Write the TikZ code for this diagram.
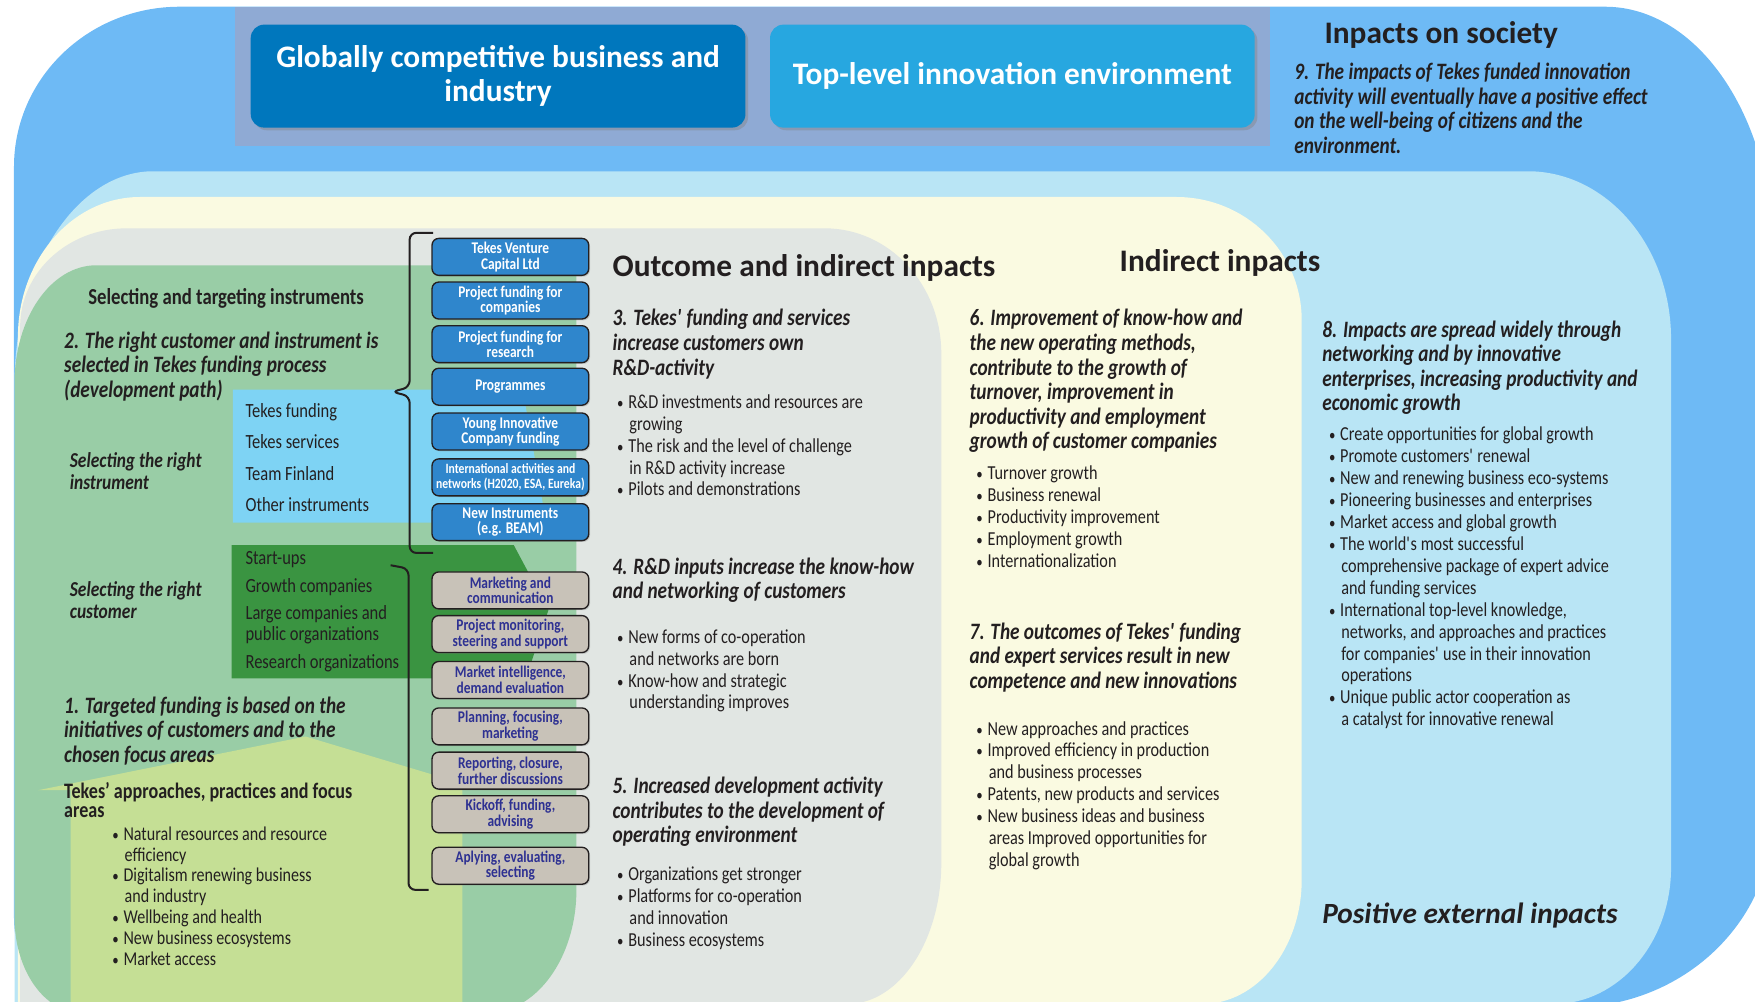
\documentclass[tikz,border=0pt]{standalone}
\usepackage{fontspec}
\setmainfont{Carlito}[FakeStretch=0.82]
\newfontfamily\headfont{Carlito}
\usetikzlibrary{positioning,shadows}
\definecolor{tkSky}{HTML}{6EBAF5}
\definecolor{tkBand}{HTML}{8FAAD4}
\definecolor{tkNavy}{HTML}{0077BD}
\definecolor{tkCyan}{HTML}{27A7E0}
\definecolor{tkPale}{HTML}{B9E5F5}
\definecolor{tkCream}{HTML}{FAFAE1}
\definecolor{tkGrey}{HTML}{E1E6E3}
\definecolor{tkGreen}{HTML}{99CDA6}
\definecolor{tkLime}{HTML}{C5DF95}
\definecolor{tkAqua}{HTML}{7ED3F4}
\definecolor{tkForest}{HTML}{3A9441}
\definecolor{tkInst}{HTML}{2F86CC}
\definecolor{tkAct}{HTML}{C8C2B8}
\definecolor{tkActText}{HTML}{2E3192}
\definecolor{tkInk}{HTML}{231F20}
\newcommand{\bitem}{\makebox[5pt][l]{\fontsize{7}{7}\selectfont\textbullet}}
\newcommand{\bcont}{\hspace*{5.5pt}}
\tikzset{
  topbox/.style    = {rounded corners=6pt, text=white, align=center,
                      font=\headfont\fontsize{14}{15}\selectfont\bfseries,
                      minimum height=46pt, inner sep=2pt,
                      drop shadow={shadow xshift=1.2pt, shadow yshift=-1.2pt,
                                   opacity=0.4}},
  instbox/.style   = {draw=tkInk, line width=0.6pt, rounded corners=3pt,
                      fill=tkInst, text=white, align=center,
                      font=\fontsize{7.3}{7}\selectfont\bfseries,
                      minimum width=70pt, minimum height=16.5pt, inner sep=1pt,
                      drop shadow={shadow xshift=0.6pt, shadow yshift=-0.6pt,
                                   opacity=0.3}},
  actbox/.style    = {instbox, fill=tkAct, text=tkActText},
  panelhd/.style   = {font=\headfont\fontsize{14}{15}\selectfont\bfseries,
                      text=tkInk, inner sep=0pt, anchor=west},
  claim/.style     = {font=\fontsize{10.5}{11}\selectfont\bfseries\itshape,
                      text=tkInk, align=left, inner sep=0pt, anchor=north west},
  bullets/.style   = {font=\fontsize{8.85}{9.8}\selectfont, text=tkInk,
                      align=left, inner sep=0pt, anchor=north west},
  choose/.style    = {font=\fontsize{9.5}{10}\selectfont\bfseries\itshape,
                      text=tkInk, align=left, inner sep=0pt, anchor=north west},
  roster/.style    = {font=\fontsize{9}{14}\selectfont, text=tkInk,
                      align=left, inner sep=0pt, anchor=north west},
  brace/.style     = {draw=tkInk, line width=0.9pt, rounded corners=3pt},
}
\begin{document}
\begin{tikzpicture}[x=0.5pt, y=-0.5pt]
  \useasboundingbox (0,0) rectangle (1568,895);
  \clip (0,0) rectangle (1568,895);

  % nested impact layers, outermost first
  \fill[tkSky] (12.5,149) arc[start angle=180, end angle=270, x radius=148, y radius=143]
    -- (1434,6) arc[start angle=270, end angle=360, x radius=150, y radius=220]
    -- (1584,730) arc[start angle=0, end angle=90, x radius=180, y radius=170]
    -- (72.5,900) arc[start angle=90, end angle=180, x radius=60, y radius=80] -- cycle;
  \fill[tkBand] (210,6) rectangle (1135,130);
  \fill[tkPale] (13,343) arc[start angle=180, end angle=270, x radius=124, y radius=190]
    -- (1365,153) arc[start angle=270, end angle=360, x radius=128, y radius=150]
    -- (1493,775) arc[start angle=0, end angle=90, x radius=105, y radius=122]
    -- (13,897) -- cycle;
  \fill[tkCream] (16,301) arc[start angle=180, end angle=270, x radius=109, y radius=125]
    -- (1051,176) arc[start angle=270, end angle=360, x radius=112, y radius=110]
    -- (1163,786) arc[start angle=0, end angle=90, x radius=89, y radius=111]
    -- (16,897) -- cycle;
  \fill[tkGrey] (18,292) arc[start angle=180, end angle=270, x radius=95, y radius=88]
    -- (737,204) arc[start angle=270, end angle=360, x radius=104, y radius=112]
    -- (841,771) arc[start angle=0, end angle=90, x radius=84, y radius=126]
    -- (18,897) -- cycle;
  \fill[tkGreen] (13,342) arc[start angle=180, end angle=270, x radius=73, y radius=105]
    -- (515,237) -- (515,795) arc[start angle=0, end angle=90, x radius=80, y radius=110]
    -- (73,905) arc[start angle=90, end angle=180, x radius=60, y radius=85] -- cycle;
  \fill[tkLime] (63,905) -- (63,706) -- (34,706) -- (273,658) -- (413,700)
    -- (413,905) -- cycle;
  \fill[tkAqua] (208,348) -- (467,348) -- (488,467) -- (208,467) -- cycle;
  \fill[tkForest] (207,487) -- (459,487) -- (490,545) -- (470,606) -- (207,606) -- cycle;

  % top goals
  \node[topbox, fill=tkNavy, minimum width=221pt] (business) at (445,68)
    {Globally competitive business and\\industry};
  \node[topbox, fill=tkCyan, minimum width=216.5pt] (environment) at (904.5,68)
    {Top-level innovation environment};
  \node[panelhd] (society) at (1183,31) {Inpacts on society};
  \node[claim] (claim9) at (1156,56)
    {9. The impacts of Tekes funded innovation\\activity will eventually have a positive effect\\on the well-being of citizens and the\\environment.};

  % braces
  \draw[brace] (387,208) -- (366,208) -- (366,346) -- (350,350) -- (366,354)
    -- (366,494) -- (387,494);
  \draw[brace] (349,505) -- (365,508) -- (365,795) -- (383,795);

  % instruments
  \node[instbox] (venture) at (456,229.5) {Tekes Venture\\Capital Ltd};
  \node[instbox] (pfcomp)  at (456,268.5) {Project funding for\\companies};
  \node[instbox] (pfres)   at (456,307.5) {Project funding for\\research};
  \node[instbox] (progs)   at (456,345.5) {Programmes};
  \node[instbox] (yic)     at (456,385.5) {Young Innovative\\Company funding};
  \node[instbox, font=\fontsize{6.35}{6.6}\selectfont\bfseries] (intl) at (456,426.5)
    {International activities and\\networks (H2020, ESA, Eureka)};
  \node[instbox] (newinst) at (456,466.5) {New Instruments\\(e.g. BEAM)};

  % process steps
  \node[actbox] (mkt)     at (456,527.5) {Marketing and\\communication};
  \node[actbox] (monitor) at (456,566.5) {Project monitoring,\\steering and support};
  \node[actbox] (intel)   at (456,607.5) {Market intelligence,\\demand evaluation};
  \node[actbox] (plan)    at (456,649)   {Planning, focusing,\\marketing};
  \node[actbox] (report)  at (456,688.5) {Reporting, closure,\\further discussions};
  \node[actbox] (kickoff) at (456,727.5) {Kickoff, funding,\\advising};
  \node[actbox] (apply)   at (456,773.5) {Aplying, evaluating,\\selecting};

  % left panel
  \node[font=\fontsize{10.2}{11}\selectfont\bfseries, text=tkInk, inner sep=0pt]
    (targeting) at (202,267) {Selecting and targeting instruments};
  \node[claim] (claim2) at (57,296)
    {2. The right customer and instrument is\\selected in Tekes funding process\\(development path)};
  \node[choose] (chooseinst) at (62,404) {Selecting the right\\instrument};
  \node[roster] (instlist) at (219,360)
    {Tekes funding\\Tekes services\\Team Finland\\Other instruments};
  \node[choose] (choosecust) at (62,519) {Selecting the right\\customer};
  \node[roster, font=\fontsize{9}{9.5}\selectfont] (custlist) at (219,492.5)
    {Start-ups\\[3pt]Growth companies\\[2.5pt]Large companies and\\public organizations\\[3pt]Research organizations};
  \node[claim] (claim1) at (57,622)
    {1. Targeted funding is based on the\\initiatives of customers and to the\\chosen focus areas};
  \node[claim, font=\fontsize{9.85}{8.5}\selectfont\bfseries] (focushd) at (57,699)
    {Tekes’ approaches, practices and focus\\areas};
  \node[bullets, font=\fontsize{8.75}{9.35}\selectfont] (focuslist) at (100,738)
    {\bitem Natural resources and resource\\\bcont efficiency\\\bitem Digitalism renewing business\\\bcont and industry\\\bitem Wellbeing and health\\\bitem New business ecosystems\\\bitem Market access};

  % outcome panel
  \node[panelhd] (outcome) at (547,239) {Outcome and indirect inpacts};
  \node[claim] (claim3) at (547,276)
    {3. Tekes\textquotesingle{} funding and services\\increase customers own\\R\&D-activity};
  \node[bullets] (list3) at (551,352)
    {\bitem R\&D investments and resources are\\\bcont growing\\\bitem The risk and the level of challenge\\\bcont in R\&D activity increase\\\bitem Pilots and demonstrations};
  \node[claim] (claim4) at (547,498)
    {4. R\&D inputs increase the know-how\\and networking of customers};
  \node[bullets] (list4) at (551,562)
    {\bitem New forms of co-operation\\\bcont and networks are born\\\bitem Know-how and strategic\\\bcont understanding improves};
  \node[claim] (claim5) at (547,694)
    {5. Increased development activity\\contributes to the development of\\operating environment};
  \node[bullets] (list5) at (551,774)
    {\bitem Organizations get stronger\\\bitem Platforms for co-operation\\\bcont and innovation\\\bitem Business ecosystems};

  % indirect panel
  \node[panelhd] (indirect) at (1000,235) {Indirect inpacts};
  \node[claim] (claim6) at (866,276)
    {6. Improvement of know-how and\\the new operating methods,\\contribute to the growth of\\turnover, improvement in\\productivity and employment\\growth of customer companies};
  \node[bullets] (list6) at (872,416)
    {\bitem Turnover growth\\\bitem Business renewal\\\bitem Productivity improvement\\\bitem Employment growth\\\bitem Internationalization};
  \node[claim] (claim7) at (866,556)
    {7. The outcomes of Tekes\textquotesingle{} funding\\and expert services result in new\\competence and new innovations};
  \node[bullets] (list7) at (872,644)
    {\bitem New approaches and practices\\\bitem Improved efficiency in production\\\bcont and business processes\\\bitem Patents, new products and services\\\bitem New business ideas and business\\\bcont areas Improved opportunities for\\\bcont global growth};

  % external panel
  \node[claim] (claim8) at (1181,286)
    {8. Impacts are spread widely through\\networking and by innovative\\enterprises, increasing productivity and\\economic growth};
  \node[bullets] (list8) at (1187,381)
    {\bitem Create opportunities for global growth\\\bitem Promote customers\textquotesingle{} renewal\\\bitem New and renewing business eco-systems\\\bitem Pioneering businesses and enterprises\\\bitem Market access and global growth\\\bitem The world\textquotesingle{}s most successful\\\bcont comprehensive package of expert advice\\\bcont and funding services\\\bitem International top-level knowledge,\\\bcont networks, and approaches and practices\\\bcont for companies\textquotesingle{} use in their innovation\\\bcont operations\\\bitem Unique public actor cooperation as\\\bcont a catalyst for innovative renewal};
  \node[panelhd, font=\headfont\fontsize{13.1}{14}\selectfont\bfseries\itshape]
    (external) at (1181,818) {Positive external inpacts};
\end{tikzpicture}
\end{document}
